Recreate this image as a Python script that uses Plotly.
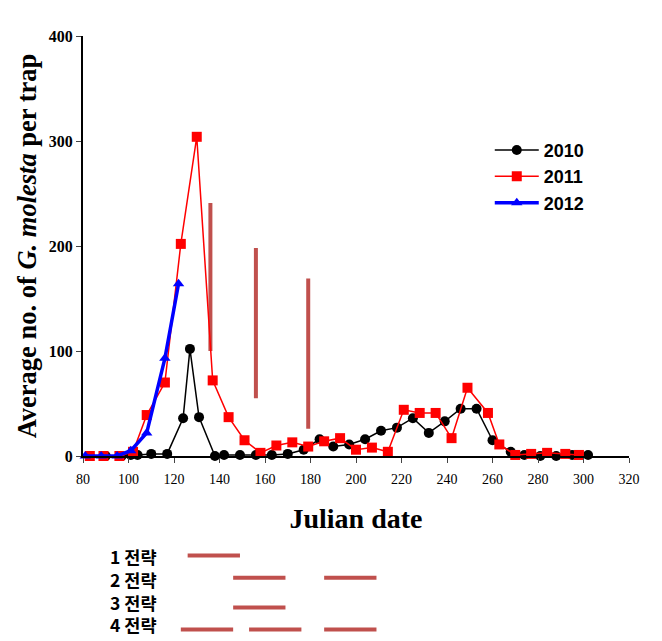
import plotly.graph_objects as go

# 2010 series
days_2010 = [83, 90, 97, 101, 104, 110, 117, 124, 127, 131, 138, 142, 149, 156, 163, 170, 177, 184, 190,
             197, 204, 211, 218, 225, 232, 239, 246, 253, 260, 268, 274, 281, 288, 295, 302]
vals_2010 = [0, 0, 0, 1, 1, 2, 2, 36, 102, 37, 0, 1, 1, 1, 1, 2, 6, 16, 9,
             11, 16, 24, 27, 36, 22, 33, 45, 45, 15, 4, 1, 0, 0, 1, 1]

# 2011 series
days_2011 = [83, 89, 96, 102, 108, 116, 123, 130, 137, 144, 151, 158, 165, 172, 179, 186, 193, 200,
             207, 214, 221, 228, 235, 242, 249, 258, 263, 270, 277, 284, 292, 298]
vals_2011 = [0, 0, 0, 4, 39, 70, 202, 304, 72, 37, 15, 3, 10, 13, 9, 14, 17, 6,
             8, 4, 44, 41, 41, 17, 65, 41, 11, 1, 2, 3, 2, 1]

# 2012 series
days_2012 = [81, 88, 95, 101, 108, 116, 122]
vals_2012 = [0, 0, 0, 5, 22, 93, 164]

# vertical strategy marks in the chart
mark_days = [136, 156, 179]
mark_low = [100, 55, 26]
mark_high = [241, 198, 169]

# strategy periods below chart (start, end) in Julian date
strategy_labels = ["1 전략", "2 전략", "3 전략", "4 전략"]
strategy_periods = [
    [(126, 149)],
    [(146, 169), (186, 209)],
    [(146, 169)],
    [(123, 146), (153, 176), (186, 209)],
]

x_ticks = list(range(80, 321, 20))
y_ticks = [0, 100, 200, 300, 400]

bar_color = "#C0504D"
serif = "Liberation Serif, Times New Roman, serif"

fig = go.Figure()

for xd, lo, hi in zip(mark_days, mark_low, mark_high):
    fig.add_trace(go.Scatter(x=[xd, xd], y=[lo, hi], mode="lines",
                             line=dict(color=bar_color, width=4), showlegend=False,
                             hoverinfo="skip"))

fig.add_trace(go.Scatter(x=days_2010, y=vals_2010, mode="lines+markers", name="<b>2010</b>",
                         line=dict(color="black", width=1.5),
                         marker=dict(symbol="circle", size=10, color="black"),
                         cliponaxis=False))
fig.add_trace(go.Scatter(x=days_2011, y=vals_2011, mode="lines+markers", name="<b>2011</b>",
                         line=dict(color="#FF0000", width=1.5),
                         marker=dict(symbol="square", size=10, color="#FF0000"),
                         cliponaxis=False))
fig.add_trace(go.Scatter(x=days_2012, y=vals_2012, mode="lines+markers", name="<b>2012</b>",
                         line=dict(color="#0000FF", width=3.5),
                         marker=dict(symbol="triangle-up", size=10, color="#0000FF"),
                         cliponaxis=False))

# strategy rows below the chart
row_y = [-0.237, -0.290, -0.361, -0.413]
for periods, ly in zip(strategy_periods, row_y):
    for (s, e) in periods:
        fig.add_shape(type="line", xref="x", yref="paper", x0=s, x1=e, y0=ly, y1=ly,
                      line=dict(color=bar_color, width=4))
fig.add_annotation(xref="paper", yref="paper", x=0.045, y=-0.321,
                   text="<br>".join(strategy_labels), align="left",
                   showarrow=False, xanchor="left", yanchor="middle",
                   font=dict(family="Noto Sans CJK KR", size=17.5, color="black", weight="bold"))

fig.update_layout(
    width=654, height=633,
    margin=dict(l=75, r=33, t=28, b=185),
    plot_bgcolor="white", paper_bgcolor="white",
    showlegend=True,
    legend=dict(x=0.745, y=0.772, xanchor="left", yanchor="top",
                font=dict(family="Arial, Liberation Sans, sans-serif", size=18, color="black"),
                itemwidth=44, tracegroupgap=0, bgcolor="rgba(0,0,0,0)"),
    xaxis=dict(range=[80, 320], tickvals=x_ticks, ticks="outside", ticklen=5, tickwidth=1,
               ticklabelstandoff=4,
               showline=True, linecolor="black", linewidth=2, showgrid=False, zeroline=False,
               tickfont=dict(family=serif, size=14, color="black"),
               title=dict(text="<b>Julian date</b>", standoff=23,
                          font=dict(family=serif, size=28, color="black"))),
    yaxis=dict(range=[0, 400], tickvals=y_ticks, ticktext=[f"<b>{v}</b>" for v in y_ticks],
               ticks="outside", ticklen=5, tickwidth=1,
               showline=True, linecolor="black", linewidth=2, showgrid=False, zeroline=False,
               tickfont=dict(family=serif, size=16, color="black"),
               title=dict(text="<b>Average no. of <i>G. molesta</i> per trap</b>", standoff=5,
                          font=dict(family=serif, size=26.5, color="black"))),
)

fig.write_html("out.html")
